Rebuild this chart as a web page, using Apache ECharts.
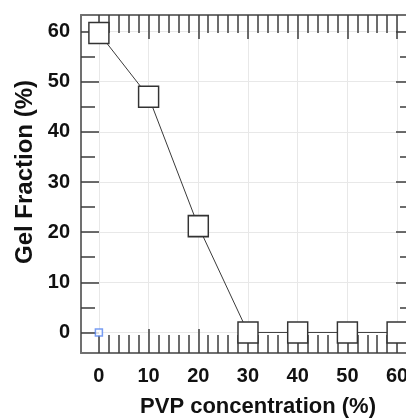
<!doctype html>
<html>
<head>
<meta charset="utf-8">
<title>Gel Fraction vs PVP</title>
<script src="https://cdn.jsdelivr.net/npm/echarts@6/dist/echarts.min.js"></script>
<style>
  html, body { margin: 0; padding: 0; background: #fff; }
  #main { width: 406px; height: 419px; }
</style>
</head>
<body>
<div id="main"></div>
<script>
// data
var pvp = [0, 10, 20, 30, 40, 50, 60];
var gel = [59.7, 47, 21.2, 0, 0, 0, 0];
var strayPoint = [0, 0];

// tick positions
var xMajor = [10, 20, 30, 40, 50, 60];
var xMinor = [0, 2, 4, 6, 8, 12, 14, 16, 18, 22, 24, 26, 28, 32, 34, 36, 38, 42, 44, 46, 48, 52, 54, 56, 58, 62];
var xLabels = [0, 10, 20, 30, 40, 50, 60];
var yMajor = [0, 10, 20, 30, 40, 50, 60];
var yMinor = [5, 15, 25, 35, 45, 55];

var xMin = -3.6, xMax = 63.4;
var yMin = -4.1, yMax = 63.3;

var font = 'Liberation Sans, Arial, sans-serif';
var lineCol = '#707070';
var tickCol = '#3c3c3c';

function xAx(pos, ticks, len, opts) {
    var a = {
        type: 'value', position: pos, min: xMin, max: xMax,
        axisLine: { show: false, onZero: false },
        axisTick: { show: true, inside: true, length: len, customValues: ticks,
                    lineStyle: { color: tickCol, width: 1.5 } },
        axisLabel: { show: false },
        splitLine: { show: false }
    };
    return Object.assign(a, opts || {});
}
function yAx(pos, ticks, len, opts) {
    var a = {
        type: 'value', position: pos, min: yMin, max: yMax,
        axisLine: { show: false, onZero: false },
        axisTick: { show: true, inside: true, length: len, customValues: ticks,
                    lineStyle: { color: tickCol, width: 1.5 } },
        axisLabel: { show: false },
        splitLine: { show: false }
    };
    return Object.assign(a, opts || {});
}

var chart = echarts.init(document.getElementById('main'));

var option = {
    animation: false,
    grid: { left: 81, top: 15, right: -8, bottom: 66, containLabel: false, outerBoundsMode: 'none' },
    xAxis: [
        xAx('bottom', xMajor, 24, {
            axisLine: { show: true, onZero: false, lineStyle: { color: lineCol, width: 2 } },
            axisLabel: { show: true, customValues: xLabels, margin: 13, hideOverlap: false,
                         fontFamily: font, fontSize: 20, fontWeight: 'bold', color: '#111' }
        }),
        xAx('bottom', xMinor, 18),
        xAx('top', xMajor, 24, {
            axisLine: { show: true, onZero: false, lineStyle: { color: lineCol, width: 2 } }
        }),
        xAx('top', xMinor, 18),
        xAx('bottom', xLabels, 0, {
            axisTick: { show: false, customValues: xLabels },
            splitLine: { show: true, lineStyle: { color: '#e8e8e8', width: 1 } }
        })
    ],
    yAxis: [
        yAx('left', yMajor, 18, {
            axisLine: { show: true, onZero: false, lineStyle: { color: lineCol, width: 2 } },
            axisLabel: { show: true, customValues: yMajor, margin: 11, hideOverlap: false,
                         fontFamily: font, fontSize: 20, fontWeight: 'bold', color: '#111' }
        }),
        yAx('left', yMinor, 14),
        yAx('right', yMajor, 18, {
            axisLine: { show: true, onZero: false, lineStyle: { color: lineCol, width: 2 } }
        }),
        yAx('right', yMinor, 14),
        yAx('left', yMajor, 0, {
            axisTick: { show: false, customValues: yMajor },
            splitLine: { show: true, lineStyle: { color: '#e8e8e8', width: 1 } }
        })
    ],
    graphic: [
        {
            type: 'text', x: 25, y: 172, rotation: Math.PI / 2,
            style: { text: 'Gel Fraction (%)', fill: '#111', align: 'center', verticalAlign: 'middle',
                     font: 'bold 24px ' + font }
        },
        {
            type: 'text', x: 258, y: 407,
            style: { text: 'PVP concentration (%)', fill: '#111', align: 'center', verticalAlign: 'middle',
                     font: 'bold 22px ' + font }
        }
    ],
    series: [
        {
            type: 'line',
            xAxisIndex: 0, yAxisIndex: 0,
            data: pvp.map(function (x, i) { return [x, gel[i]]; }),
            symbol: 'rect',
            symbolSize: [20, 21],
            showAllSymbol: true,
            lineStyle: { color: '#3a3a3a', width: 1 },
            itemStyle: { color: '#fff', borderColor: '#333', borderWidth: 1.5 },
            z: 3
        },
        {
            type: 'scatter',
            xAxisIndex: 0, yAxisIndex: 0,
            data: [strayPoint],
            symbol: 'rect',
            symbolSize: 7,
            itemStyle: { color: '#fff', borderColor: '#5583f0', borderWidth: 1.5 },
            z: 4
        }
    ]
};

chart.setOption(option);
</script>
</body>
</html>
